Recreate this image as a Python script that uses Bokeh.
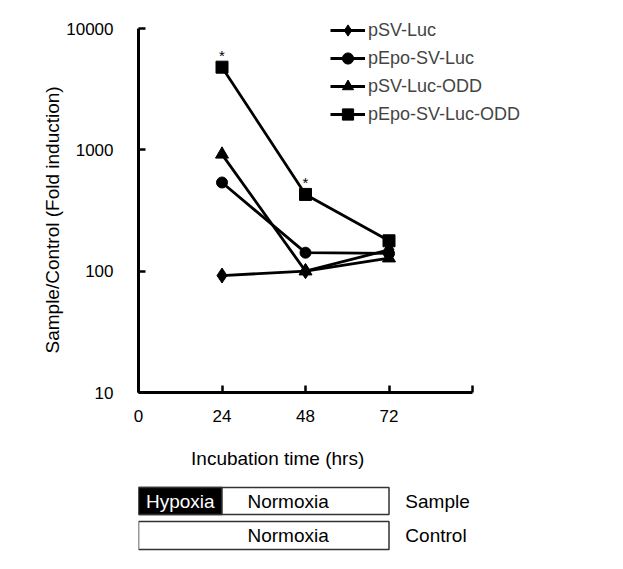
from bokeh.plotting import figure
from bokeh.layouts import column
from bokeh.models import Range1d, FixedTicker, Legend, LegendItem, BasicTickFormatter, Title
from bokeh.core.properties import value
from bokeh.embed import file_html
from bokeh.resources import INLINE

# ---------------- data ----------------
hours = [24, 48, 72]
psv_luc = [92, 100, 150]
pepo_sv_luc = [538, 142, 140]
psv_luc_odd = [918, 100, 128]
pepo_sv_luc_odd = [4800, 429, 178]
series_names = ["pSV-Luc", "pEpo-SV-Luc", "pSV-Luc-ODD", "pEpo-SV-Luc-ODD"]
series_markers = ["diamond", "circle", "triangle", "square"]
star_hours = [24, 48]
star_values = [4800, 429]
x_ticks = [0, 24, 48, 72, 96]
y_ticks = [10, 100, 1000, 10000]

# condition bars (hours)
bar_rows = ["Sample", "Control"]
hypoxia_span = [0, 24]
incubation_span = [0, 72]

FONT = "Liberation Sans"
X_END = 460 * 96 / 334.0          # frame extends past 96 h so the legend is not clipped
Y_TOP = 10 ** (4 + 20 / 121.33)   # frame extends above 10000 for the legend

p = figure(x_range=Range1d(0, X_END), y_range=Range1d(10, Y_TOP), y_axis_type="log",
           frame_width=460, frame_height=384, width=608, height=440,
           min_border_left=138, min_border_right=10, min_border_top=8, min_border_bottom=48,
           output_backend="svg", toolbar_location=None)
p.outline_line_color = None
p.xgrid.visible = False
p.ygrid.visible = False

items = []
for name, vals, mk, sz in zip(series_names,
                              [psv_luc, pepo_sv_luc, psv_luc_odd, pepo_sv_luc_odd],
                              series_markers, [15, 11, 13, 12]):
    ln = p.line(hours, vals, line_color="black", line_width=2.8)
    sc = p.scatter(hours, vals, marker=mk, size=sz, fill_color="black", line_color="black")
    items.append(LegendItem(label=name, renderers=[ln, sc]))

p.text(x=star_hours, y=star_values, text=["*", "*"], text_font=value(FONT),
       text_font_size="15px", text_align="center", text_baseline="middle",
       y_offset=-12, text_color="black")

legend = Legend(items=items, location=(192, 264), glyph_width=35, glyph_height=28,
                label_height=28, spacing=0, padding=0, margin=0, label_standoff=3,
                label_text_font=FONT, label_text_font_size="18px",
                border_line_color=None, background_fill_alpha=0)
p.add_layout(legend, "center")

xa = p.xaxis[0]
xa.ticker = FixedTicker(ticks=x_ticks)
xa.bounds = (0, 96)
xa.major_label_overrides = {96: ""}
xa.minor_tick_line_color = None
xa.major_tick_in = 7
xa.major_tick_out = 0
xa.major_tick_line_width = 2.5
xa.axis_line_width = 3
xa.major_label_standoff = 17
xa.major_label_text_font = FONT
xa.major_label_text_font_size = "17px"
xa.major_label_text_color = "black"

ya = p.yaxis[0]
ya.ticker = FixedTicker(ticks=y_ticks)
ya.formatter = BasicTickFormatter(use_scientific=False)
ya.bounds = (10, 10000)
ya.minor_tick_line_color = None
ya.major_tick_in = 7
ya.major_tick_out = 0
ya.major_tick_line_width = 2.5
ya.axis_line_width = 3
ya.major_label_standoff = 25
ya.major_label_text_font = FONT
ya.major_label_text_font_size = "17px"
ya.major_label_text_color = "black"

# y-axis title as a left-side title, starting 39 px above the frame bottom
p.add_layout(Title(text="Sample/Control (Fold induction)", align="left", offset=39,
                   text_font=FONT, text_font_size="19px", text_font_style="normal",
                   text_color="black", standoff=2), "left")

# ---------------- x title + condition bars ----------------
q = figure(x_range=p.x_range, y_range=Range1d(118, 0),
           frame_width=460, frame_height=118, width=608, height=118,
           min_border_left=138, min_border_right=10, min_border_top=0, min_border_bottom=0,
           output_backend="svg", toolbar_location=None)
q.outline_line_color = None
q.xgrid.visible = False
q.ygrid.visible = False
q.xaxis.visible = False
q.yaxis.visible = False

q.text(x=[40], y=[18], text=["Incubation time (hrs)"], text_color="black",
       text_font=value(FONT), text_font_size="19px", text_align="center", text_baseline="middle")

row_top = [47, 81]
row_bottom = [74, 109]
q.quad(left=[incubation_span[0]] * 2, right=[incubation_span[1]] * 2,
       top=row_top, bottom=row_bottom, fill_color="white", line_color="#333333", line_width=1.5)
q.quad(left=[hypoxia_span[0]], right=[hypoxia_span[1]], top=[row_top[0]], bottom=[row_bottom[0]],
       fill_color="black", line_color="#333333", line_width=1.5)
mid = [(a + b) / 2 for a, b in zip(row_top, row_bottom)]
q.text(x=[sum(hypoxia_span) / 2], y=[mid[0]], text=["Hypoxia"], text_color="white",
       text_font=value(FONT), text_font_size="19px", text_align="center", text_baseline="middle")
q.text(x=[43, 43], y=mid, text=["Normoxia", "Normoxia"], text_color="black",
       text_font=value(FONT), text_font_size="19px", text_align="center", text_baseline="middle")
q.text(x=[76.7, 76.7], y=mid, text=bar_rows, text_color="black",
       text_font=value(FONT), text_font_size="19px", text_align="left", text_baseline="middle")

layout = column(p, q, spacing=0)
open("out.html", "w").write(file_html(layout, INLINE))
